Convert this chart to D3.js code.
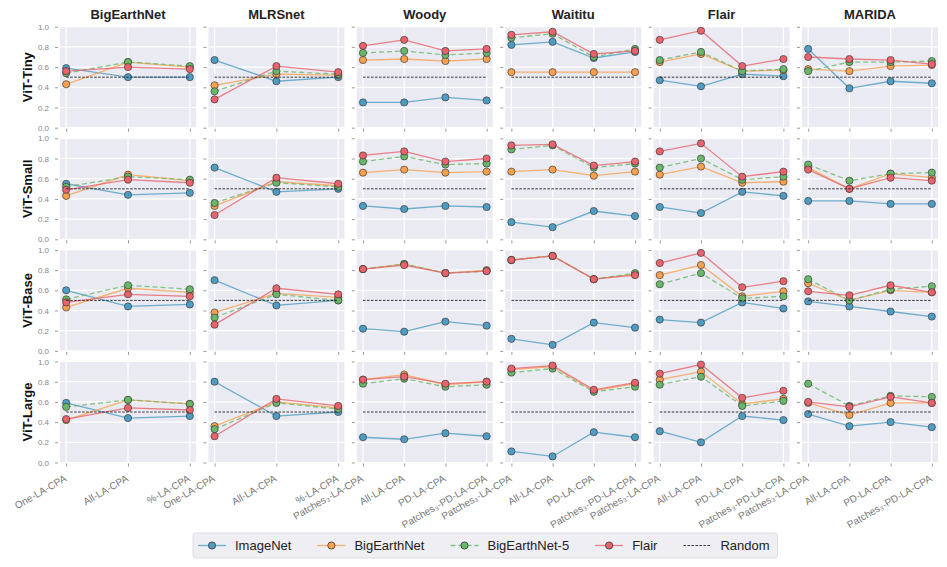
<!DOCTYPE html>
<html>
<head>
<meta charset="utf-8">
<script src="https://cdn.jsdelivr.net/npm/d3@7"></script>
<style>
  body { margin: 0; background: #fff; }
  svg { font-family: "Liberation Sans", Arial, sans-serif; }
</style>
</head>
<body>
<svg id="canvas"></svg>
<script>
const WIDTH = 947;
const HEIGHT = 567;
const LEFT = 60;
const COL_STEP = 148.4;
const PANEL_W = 136;
const TOP = 26.7;
const ROW_STEP = 111.6;
const PANEL_H = 101;

const datasets = ["BigEarthNet", "MLRSnet", "Woody", "Waititu", "Flair", "MARIDA"];
const models = ["ViT-Tiny", "ViT-Small", "ViT-Base", "ViT-Large"];
const sceneCats = ["One-LA-CPA", "All-LA-CPA", "%-LA-CPA"];
const segCats = ["Patches\u2083-LA-CPA", "All-LA-CPA", "PD-LA-CPA", "Patches\u2083-PD-LA-CPA"];
const yTicks = [0, 0.2, 0.4, 0.6, 0.8, 1.0];
const randomLevel = 0.5;

// values[model][dataset][category]
const imagenet = [
  [[0.59, 0.50, 0.50], [0.67, 0.46, 0.50], [0.25, 0.25, 0.30, 0.27], [0.82, 0.85, 0.69, 0.75], [0.47, 0.41, 0.53, 0.51], [0.78, 0.39, 0.46, 0.44]],
  [[0.55, 0.44, 0.46], [0.71, 0.47, 0.50], [0.33, 0.30, 0.33, 0.32], [0.17, 0.12, 0.28, 0.23], [0.32, 0.26, 0.47, 0.43], [0.38, 0.38, 0.35, 0.35]],
  [[0.60, 0.44, 0.46], [0.70, 0.45, 0.50], [0.22, 0.19, 0.29, 0.25], [0.12, 0.06, 0.28, 0.23], [0.31, 0.28, 0.48, 0.42], [0.49, 0.44, 0.39, 0.34]],
  [[0.59, 0.44, 0.46], [0.80, 0.46, 0.50], [0.25, 0.23, 0.29, 0.26], [0.11, 0.06, 0.30, 0.25], [0.31, 0.20, 0.46, 0.42], [0.48, 0.36, 0.40, 0.35]],
];
const bigearthnet = [
  [[0.43, 0.65, 0.60], [0.42, 0.53, 0.52], [0.67, 0.68, 0.66, 0.68], [0.55, 0.55, 0.55, 0.55], [0.65, 0.73, 0.56, 0.57], [0.58, 0.56, 0.61, 0.62]],
  [[0.43, 0.64, 0.58], [0.33, 0.57, 0.53], [0.66, 0.69, 0.66, 0.67], [0.67, 0.69, 0.63, 0.67], [0.64, 0.72, 0.56, 0.57], [0.71, 0.50, 0.65, 0.61]],
  [[0.43, 0.62, 0.58], [0.38, 0.57, 0.53], [0.81, 0.86, 0.77, 0.80], [0.90, 0.94, 0.71, 0.76], [0.75, 0.85, 0.54, 0.59], [0.67, 0.50, 0.60, 0.58]],
  [[0.42, 0.62, 0.58], [0.36, 0.60, 0.54], [0.82, 0.87, 0.77, 0.80], [0.92, 0.95, 0.71, 0.78], [0.82, 0.90, 0.58, 0.63], [0.59, 0.47, 0.59, 0.59]],
];
const bigearthnet5 = [
  [[0.54, 0.65, 0.61], [0.36, 0.56, 0.53], [0.74, 0.76, 0.72, 0.74], [0.89, 0.93, 0.70, 0.78], [0.67, 0.75, 0.56, 0.58], [0.56, 0.65, 0.65, 0.66]],
  [[0.52, 0.62, 0.59], [0.36, 0.56, 0.52], [0.77, 0.82, 0.74, 0.75], [0.89, 0.93, 0.71, 0.75], [0.71, 0.80, 0.59, 0.62], [0.74, 0.58, 0.65, 0.66]],
  [[0.51, 0.65, 0.61], [0.33, 0.56, 0.50], [0.81, 0.86, 0.77, 0.79], [0.90, 0.94, 0.71, 0.77], [0.66, 0.77, 0.52, 0.54], [0.71, 0.50, 0.61, 0.64]],
  [[0.55, 0.62, 0.58], [0.33, 0.59, 0.53], [0.78, 0.83, 0.75, 0.77], [0.89, 0.93, 0.70, 0.75], [0.77, 0.85, 0.56, 0.61], [0.78, 0.56, 0.66, 0.65]],
];
const flair = [
  [[0.56, 0.60, 0.58], [0.28, 0.61, 0.55], [0.81, 0.87, 0.76, 0.78], [0.92, 0.95, 0.73, 0.76], [0.87, 0.96, 0.61, 0.68], [0.70, 0.68, 0.67, 0.63]],
  [[0.49, 0.59, 0.56], [0.24, 0.61, 0.55], [0.83, 0.87, 0.77, 0.80], [0.93, 0.94, 0.73, 0.77], [0.87, 0.95, 0.62, 0.67], [0.69, 0.50, 0.61, 0.58]],
  [[0.48, 0.56, 0.54], [0.26, 0.62, 0.56], [0.81, 0.85, 0.77, 0.79], [0.90, 0.94, 0.71, 0.75], [0.87, 0.97, 0.63, 0.69], [0.59, 0.55, 0.65, 0.58]],
  [[0.43, 0.54, 0.52], [0.26, 0.63, 0.56], [0.82, 0.85, 0.78, 0.80], [0.93, 0.96, 0.72, 0.79], [0.88, 0.97, 0.64, 0.71], [0.60, 0.55, 0.65, 0.59]],
];

const series = [
  { name: "ImageNet", values: imagenet, color: "#4f9cc2", dash: null },
  { name: "BigEarthNet", values: bigearthnet, color: "#f7a14f", dash: null },
  { name: "BigEarthNet-5", values: bigearthnet5, color: "#69b869", dash: "5,3" },
  { name: "Flair", values: flair, color: "#e8636b", dash: null },
];

const canvas = d3.select("#canvas").attr("width", WIDTH).attr("height", HEIGHT);

const yScale = d3.scaleLinear().domain([0, 1]).range([PANEL_H, 0]);

const drawPanel = (r, c) => {
  const cats = c < 2 ? sceneCats : segCats;
  const xScale = d3
    .scalePoint()
    .domain(cats)
    .range([0, PANEL_W])
    .padding(0.05 * (cats.length - 1));

  const g = canvas
    .append("g")
    .attr("transform", `translate(${LEFT + c * COL_STEP}, ${TOP + r * ROW_STEP})`);

  g.append("rect")
    .attr("width", PANEL_W)
    .attr("height", PANEL_H)
    .attr("fill", "#eaeaf2");

  // grid
  g.selectAll(".hgrid")
    .data(yTicks)
    .enter()
    .append("line")
    .attr("x1", 0)
    .attr("x2", PANEL_W)
    .attr("y1", (d) => yScale(d))
    .attr("y2", (d) => yScale(d))
    .attr("stroke", "#fff")
    .attr("stroke-width", 1.2);
  g.selectAll(".vgrid")
    .data(cats)
    .enter()
    .append("line")
    .attr("x1", (d) => xScale(d))
    .attr("x2", (d) => xScale(d))
    .attr("y1", 0)
    .attr("y2", PANEL_H)
    .attr("stroke", "#fff")
    .attr("stroke-width", 1.2);

  // axes
  const yAxis = d3
    .axisLeft(yScale)
    .tickValues(yTicks)
    .tickSize(3)
    .tickPadding(6)
    .tickFormat(c === 0 ? d3.format(".1f") : () => "");
  const ya = g.append("g").attr("transform", "translate(-2, 0)").call(yAxis);
  ya.select(".domain").remove();
  ya.selectAll("line").attr("stroke", "#999");
  ya.selectAll("text").attr("fill", "#888").style("font-size", "8px");

  const xAxis = d3.axisBottom(xScale).tickSize(3).tickFormat("");
  const xa = g.append("g").attr("transform", `translate(0, ${PANEL_H + 1})`).call(xAxis);
  xa.select(".domain").remove();
  xa.selectAll("line").attr("stroke", "#999");

  if (r === models.length - 1) {
    g.selectAll(".xlabel")
      .data(cats)
      .enter()
      .append("text")
      .attr("text-anchor", "end")
      .attr("transform", (d) => `translate(${xScale(d) + 1}, ${PANEL_H + 18}) rotate(-30)`)
      .attr("fill", "#777")
      .style("font-size", "10px")
      .text((d) => d);
  }

  const line = d3
    .line()
    .x((d, i) => xScale(cats[i]))
    .y((d) => yScale(d));

  series.forEach((s) => {
    const vals = s.values[r][c];
    g.append("path")
      .attr("d", line(vals))
      .attr("fill", "none")
      .attr("stroke", s.color)
      .attr("stroke-width", 1.3)
      .attr("stroke-opacity", 0.8)
      .attr("stroke-dasharray", s.dash);
    g.selectAll(null)
      .data(vals)
      .enter()
      .append("circle")
      .attr("cx", (d, i) => xScale(cats[i]))
      .attr("cy", (d) => yScale(d))
      .attr("r", 3.6)
      .attr("fill", s.color)
      .attr("stroke", "#333")
      .attr("stroke-width", 0.8)
      .attr("stroke-opacity", 0.8);
  });

  g.append("line")
    .attr("x1", xScale(cats[0]))
    .attr("x2", xScale(cats[cats.length - 1]))
    .attr("y1", yScale(randomLevel))
    .attr("y2", yScale(randomLevel))
    .attr("stroke", "#222")
    .attr("stroke-width", 0.9)
    .attr("stroke-dasharray", "2.5,1.5");

  if (r === 0) {
    g.append("text")
      .attr("x", PANEL_W / 2)
      .attr("y", -8)
      .attr("text-anchor", "middle")
      .attr("font-weight", "bold")
      .style("font-size", "13px")
      .attr("fill", "#222")
      .text(datasets[c]);
  }
  if (c === 0) {
    g.append("text")
      .attr("transform", `translate(-33, ${PANEL_H / 2}) rotate(-90)`)
      .attr("text-anchor", "middle")
      .attr("dy", "0.35em")
      .attr("font-weight", "bold")
      .style("font-size", "13px")
      .attr("fill", "#111")
      .text(models[r]);
  }
};

models.forEach((m, r) => {
  datasets.forEach((d, c) => drawPanel(r, c));
});

// legend
const drawLegend = () => {
  const entries = series
    .map((s) => ({ name: s.name, color: s.color, dash: s.dash, marker: true }))
    .concat([{ name: "Random", color: "#222", dash: "2.5,1.5", marker: false }]);
  const lg = canvas.append("g");
  const box = lg
    .append("rect")
    .attr("x", 193)
    .attr("y", 533)
    .attr("height", 25)
    .attr("rx", 3)
    .attr("fill", "#eeeef3")
    .attr("stroke", "#dcdce4");
  let x = 198;
  const y = 545.5;
  entries.forEach((e) => {
    lg.append("line")
      .attr("x1", x)
      .attr("x2", x + 28)
      .attr("y1", y)
      .attr("y2", y)
      .attr("stroke", e.color)
      .attr("stroke-width", e.marker ? 1.3 : 0.9)
      .attr("stroke-opacity", e.marker ? 0.8 : 1)
      .attr("stroke-dasharray", e.dash);
    if (e.marker) {
      lg.append("circle")
        .attr("cx", x + 14)
        .attr("cy", y)
        .attr("r", 3.6)
        .attr("fill", e.color)
        .attr("stroke", "#333")
        .attr("stroke-width", 0.8);
    }
    const t = lg
      .append("text")
      .attr("x", x + 37)
      .attr("y", y)
      .attr("dy", "0.35em")
      .style("font-size", "13px")
      .attr("fill", "#222")
      .text(e.name);
    x += 37 + t.node().getComputedTextLength() + 26;
  });
  box.attr("width", x - 26 + 8 - 193);
};
drawLegend();
</script>
</body>
</html>
